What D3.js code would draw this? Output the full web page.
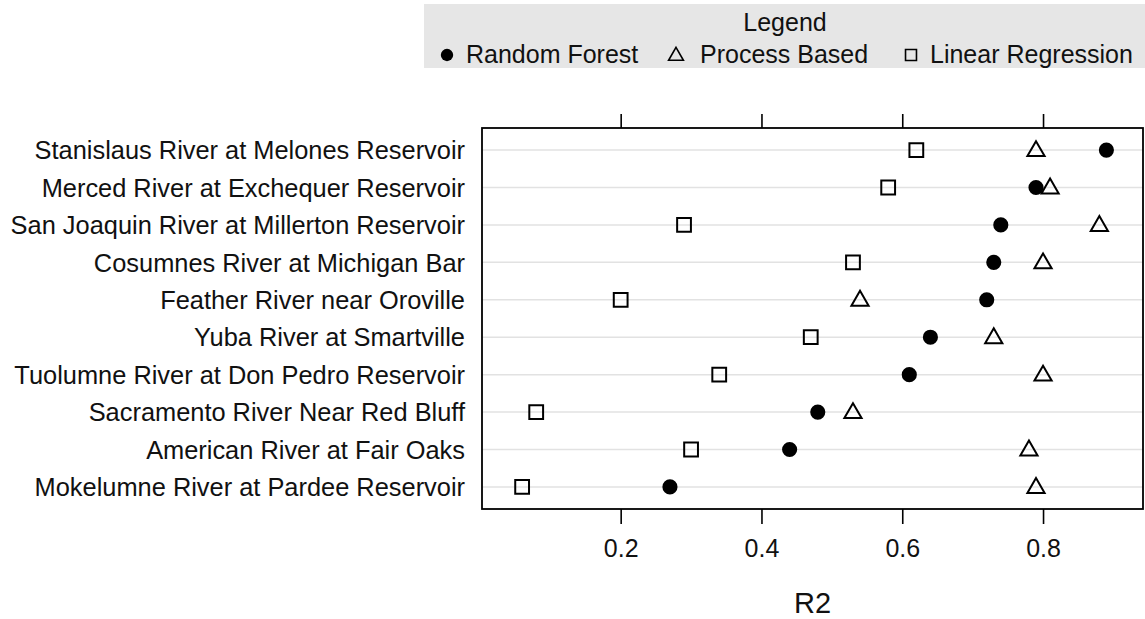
<!DOCTYPE html>
<html>
<head>
<meta charset="utf-8">
<script src="https://cdn.jsdelivr.net/npm/d3@7"></script>
<style>
  html, body { margin: 0; padding: 0; background: #ffffff; }
  svg { display: block; font-family: "Liberation Sans", Arial, sans-serif; }
</style>
</head>
<body>
<svg id="chart" width="1145" height="619"></svg>
<script>
// Gauging stations, listed top to bottom
const stations = [
  "Stanislaus River at Melones Reservoir",
  "Merced River at Exchequer Reservoir",
  "San Joaquin River at Millerton Reservoir",
  "Cosumnes River at Michigan Bar",
  "Feather River near Oroville",
  "Yuba River at Smartville",
  "Tuolumne River at Don Pedro Reservoir",
  "Sacramento River Near Red Bluff",
  "American River at Fair Oaks",
  "Mokelumne River at Pardee Reservoir"
];

// R2 per station for each model
const randomForest     = [0.89, 0.79, 0.74, 0.73, 0.72, 0.64, 0.61, 0.48, 0.44, 0.27];
const processBased     = [0.79, 0.81, 0.88, 0.80, 0.54, 0.73, 0.80, 0.53, 0.78, 0.79];
const linearRegression = [0.62, 0.58, 0.29, 0.53, 0.20, 0.47, 0.34, 0.08, 0.30, 0.06];

const modelNames = ["Random Forest", "Process Based", "Linear Regression"];
const xTicks = [0.2, 0.4, 0.6, 0.8];
const xTitle = "R2";
const legendTitle = "Legend";

const svg = d3.select("#chart");
const frame = { left: 482, right: 1143, top: 128, bottom: 509 };

const x = d3.scaleLinear().domain([0.003, 0.942]).range([frame.left, frame.right]);
const y = d3.scalePoint().domain(stations).range([frame.top, frame.bottom]).padding(0.59);

// symbol generators
const symCircle   = d3.symbol().type(d3.symbolCircle).size(180);
const symTriangle = d3.symbol().type(d3.symbolTriangle).size(128);
const symSquare   = d3.symbol().type(d3.symbolSquare).size(190);

const series = [
  { name: modelNames[0], values: randomForest,     path: symCircle(),   fill: "#000", stroke: "none" },
  { name: modelNames[1], values: processBased,     path: symTriangle(), fill: "none", stroke: "#000" },
  { name: modelNames[2], values: linearRegression, path: symSquare(),   fill: "none", stroke: "#000" }
];

// legend band
const lg = svg.append("g");
lg.append("rect").attr("x", 424).attr("y", 4).attr("width", 730).attr("height", 64)
  .attr("fill", "#e6e6e6");
lg.append("text").attr("x", 785).attr("y", 31).attr("text-anchor", "middle")
  .attr("font-size", 25).attr("fill", "#111").text(legendTitle);

const legendSyms = [
  d3.symbol().type(d3.symbolCircle).size(120)(),
  d3.symbol().type(d3.symbolTriangle).size(95)(),
  d3.symbol().type(d3.symbolSquare).size(120)()
];
const legendSymX = [447, 676, 911];
const legendTextX = [466, 700, 930];
series.forEach((s, i) => {
  lg.append("path").attr("d", legendSyms[i])
    .attr("transform", `translate(${legendSymX[i]},${i === 1 ? 56 : 55})`)
    .attr("fill", s.fill).attr("stroke", s.stroke).attr("stroke-width", 1.6);
  lg.append("text").attr("x", legendTextX[i]).attr("y", 63)
    .attr("font-size", 25).attr("fill", "#111").text(s.name);
});

// light row guides
svg.append("g").selectAll("line").data(stations).join("line")
  .attr("x1", frame.left).attr("x2", frame.right)
  .attr("y1", d => y(d)).attr("y2", d => y(d))
  .attr("stroke", "#e2e2e2").attr("stroke-width", 1.5);

// station labels
svg.append("g").selectAll("text").data(stations).join("text")
  .attr("x", frame.left - 17).attr("y", d => y(d))
  .attr("dy", "0.36em").attr("text-anchor", "end")
  .attr("font-size", 25.4).attr("fill", "#111").text(d => d);

// axes (top and bottom, ticks pointing out)
const axB = svg.append("g").attr("transform", `translate(0,${frame.bottom})`)
  .call(d3.axisBottom(x).tickValues(xTicks).tickFormat(d3.format(".1f")).tickSize(15).tickSizeOuter(0));
const axT = svg.append("g").attr("transform", `translate(0,${frame.top})`)
  .call(d3.axisTop(x).tickValues(xTicks).tickFormat("").tickSize(14).tickSizeOuter(0));
[axB, axT].forEach(a => {
  a.select(".domain").remove();
  a.selectAll(".tick line").attr("stroke", "#000").attr("stroke-width", 1.6);
});
axB.selectAll(".tick text").attr("font-size", 25).attr("fill", "#111")
  .attr("font-family", "'Liberation Sans', Arial, sans-serif").attr("dy", "1.2em");

// panel frame
svg.append("rect").attr("x", frame.left).attr("y", frame.top)
  .attr("width", frame.right - frame.left).attr("height", frame.bottom - frame.top)
  .attr("fill", "none").attr("stroke", "#000").attr("stroke-width", 1.8);

// points
series.forEach(s => {
  svg.append("g").selectAll("path").data(s.values).join("path")
    .attr("d", s.path)
    .attr("transform", (v, i) => `translate(${x(v)},${y(stations[i]) + (s.name === modelNames[1] ? 1 : 0)})`)
    .attr("fill", s.fill).attr("stroke", s.stroke).attr("stroke-width", 2);
});

// axis title
svg.append("text").attr("x", (frame.left + frame.right) / 2).attr("y", 613)
  .attr("text-anchor", "middle").attr("font-size", 29).attr("fill", "#111").text(xTitle);
</script>
</body>
</html>
